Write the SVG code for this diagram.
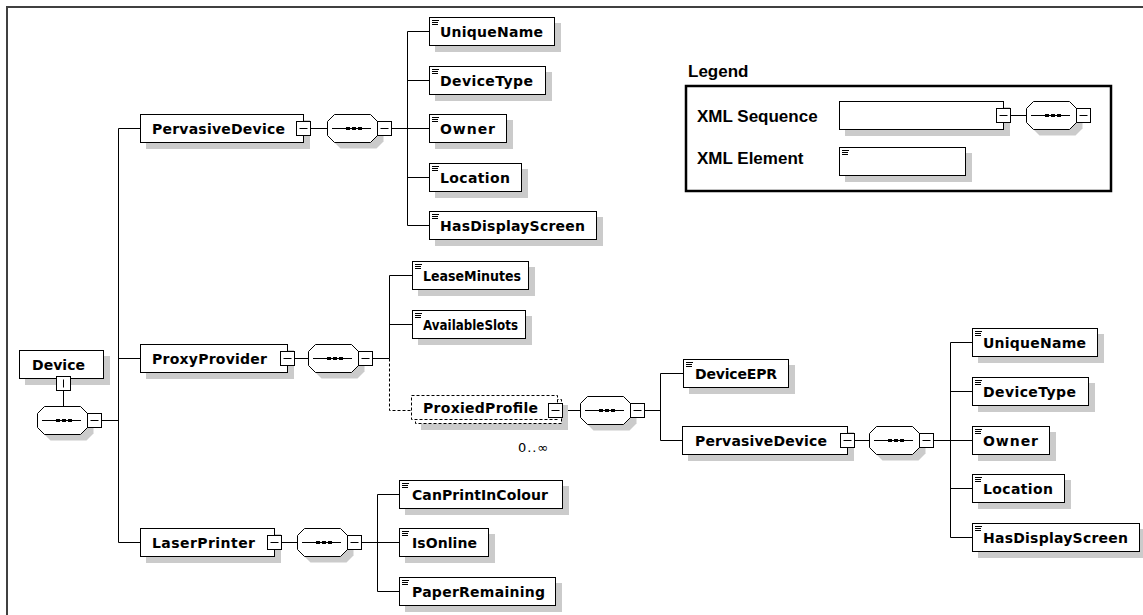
<svg xmlns="http://www.w3.org/2000/svg" xmlns:xlink="http://www.w3.org/1999/xlink" width="1143" height="615" viewBox="0 0 1143 615">
  <style>
    .box { fill: #ffffff; stroke: #000000; stroke-width: 1; }
    .shd { fill: #cbcbcb; stroke: none; }
    .ln { fill: none; stroke: #000000; stroke-width: 1; }
    .dash { stroke-dasharray: 3 2; }
    .lbl { font-family: "DejaVu Sans", "Liberation Sans", sans-serif; font-weight: bold; font-size: 14px; fill: #000000; }
    .occ { font-family: "DejaVu Sans", "Liberation Sans", sans-serif; font-size: 13px; fill: #000000; }
    .leg { font-family: "Liberation Sans", Arial, sans-serif; font-weight: bold; font-size: 17px; fill: #000000; }
  </style>
  <defs>
    <!-- collapse box: 14x14 centred on its origin -->
    <g id="minus">
      <rect class="box" x="-7" y="-7" width="14" height="14"/>
      <line class="ln" x1="-4" y1="0" x2="4" y2="0"/>
    </g>
    <!-- sequence compositor: octagon with dotted bar, plus its collapse box -->
    <g id="seq">
      <polygon class="shd" points="13.5,6.5 49.5,6.5 56.5,13.5 56.5,27.5 49.5,34.5 13.5,34.5 6.5,27.5 6.5,13.5"/>
      <polygon class="box" points="7.5,0.5 43.5,0.5 50.5,7.5 50.5,21.5 43.5,28.5 7.5,28.5 0.5,21.5 0.5,7.5"/>
      <line class="ln" x1="5" y1="14.5" x2="44" y2="14.5"/>
      <rect x="19" y="13" width="4" height="3" fill="#000"/>
      <rect x="25" y="13" width="4" height="3" fill="#000"/>
      <rect x="31" y="13" width="4" height="3" fill="#000"/>
      <use xlink:href="#minus" href="#minus" transform="translate(57.5,14.5)"/>
    </g>
    <!-- simple element marker in the top-left corner -->
    <path id="icon" class="ln" d="M3 3.5h7M3 5.5h6M3 7.5h6"/>
  </defs>

  <!-- frame -->
  <path d="M7 615 V7 H1143" fill="none" stroke="#404040" stroke-width="2"/>

  <!-- connectors -->
  <g id="connectors">
    <path class="ln" d="M63.5 390.5 V406.5"/>
    <path class="ln" d="M101.5 420.5 H118.5"/>
    <path class="ln" d="M118.5 128.5 V542.5 M118.5 128.5 H140.5 M118.5 358.5 H140.5 M118.5 542.5 H140.5"/>

    <path class="ln" d="M310.5 128.5 H327.5 M391.5 128.5 H407.5"/>
    <path class="ln" d="M407.5 31.5 V225.5 M407.5 31.5 H429.5 M407.5 80.5 H429.5 M407.5 128.5 H429.5 M407.5 177.5 H429.5 M407.5 225.5 H429.5"/>

    <path class="ln" d="M294.5 358.5 H308.5 M372.5 358.5 H389.5"/>
    <path class="ln" d="M389.5 275.5 V358.5 M389.5 275.5 H412.5 M389.5 324.5 H412.5"/>
    <path class="ln dash" d="M389.5 358.5 V410.5 H411.5"/>

    <path class="ln" d="M562.5 410.5 H580.5 M644.5 410.5 H660.5"/>
    <path class="ln" d="M660.5 373.5 V440.5 M660.5 373.5 H683.5 M660.5 440.5 H682.5"/>

    <path class="ln" d="M854.5 440.5 H869.5 M933.5 440.5 H950.5"/>
    <path class="ln" d="M950.5 342.5 V537.5 M950.5 342.5 H972.5 M950.5 391.5 H972.5 M950.5 440.5 H972.5 M950.5 488.5 H972.5 M950.5 537.5 H972.5"/>

    <path class="ln" d="M281.5 542.5 H297.5 M361.5 542.5 H377.5"/>
    <path class="ln" d="M377.5 494.5 V591.5 M377.5 494.5 H399.5 M377.5 542.5 H399.5 M377.5 591.5 H399.5"/>

    <path class="ln" d="M1010.5 115.5 H1026.5"/>
  </g>

  <!-- root element -->
  <g id="device" transform="translate(19,350)">
    <rect class="shd" x="6" y="6" width="85" height="29"/>
    <rect class="box" x="0.5" y="0.5" width="84" height="28"/>
    <text class="lbl" x="13" y="19.5" textLength="53" lengthAdjust="spacing">Device</text>
    <rect class="box" x="37.5" y="26.5" width="14" height="14"/>
    <line class="ln" x1="44.5" y1="29.5" x2="44.5" y2="37.5"/>
  </g>
  <g id="device-seq" transform="translate(37,406)"><use xlink:href="#seq" href="#seq"/></g>

  <!-- PervasiveDevice -->
  <g id="pervasive-device" transform="translate(140,114)">
    <rect class="shd" x="6" y="6" width="164" height="29"/>
    <rect class="box" x="0.5" y="0.5" width="163" height="28"/>
    <text class="lbl" x="12" y="19.5" textLength="133" lengthAdjust="spacing">PervasiveDevice</text>
    <use xlink:href="#minus" href="#minus" transform="translate(163.5,14.5)"/>
  </g>
  <g id="pervasive-device-seq" transform="translate(327,114)"><use xlink:href="#seq" href="#seq"/></g>

  <g id="pd-uniquename" transform="translate(429,17)">
    <rect class="shd" x="6" y="6" width="126" height="29"/>
    <rect class="box" x="0.5" y="0.5" width="125" height="28"/>
    <use xlink:href="#icon" href="#icon"/>
    <text class="lbl" x="11" y="19.5" textLength="103" lengthAdjust="spacing">UniqueName</text>
  </g>
  <g id="pd-devicetype" transform="translate(429,66)">
    <rect class="shd" x="6" y="6" width="117" height="29"/>
    <rect class="box" x="0.5" y="0.5" width="116" height="28"/>
    <use xlink:href="#icon" href="#icon"/>
    <text class="lbl" x="11" y="19.5" textLength="93" lengthAdjust="spacing">DeviceType</text>
  </g>
  <g id="pd-owner" transform="translate(429,114)">
    <rect class="shd" x="6" y="6" width="78" height="29"/>
    <rect class="box" x="0.5" y="0.5" width="77" height="28"/>
    <use xlink:href="#icon" href="#icon"/>
    <text class="lbl" x="11" y="19.5" textLength="55" lengthAdjust="spacing">Owner</text>
  </g>
  <g id="pd-location" transform="translate(429,163)">
    <rect class="shd" x="6" y="6" width="93" height="29"/>
    <rect class="box" x="0.5" y="0.5" width="92" height="28"/>
    <use xlink:href="#icon" href="#icon"/>
    <text class="lbl" x="11" y="19.5" textLength="70" lengthAdjust="spacing">Location</text>
  </g>
  <g id="pd-hasdisplayscreen" transform="translate(429,211)">
    <rect class="shd" x="6" y="6" width="168" height="29"/>
    <rect class="box" x="0.5" y="0.5" width="167" height="28"/>
    <use xlink:href="#icon" href="#icon"/>
    <text class="lbl" x="11" y="19.5" textLength="145" lengthAdjust="spacing">HasDisplayScreen</text>
  </g>

  <!-- ProxyProvider -->
  <g id="proxy-provider" transform="translate(140,344)">
    <rect class="shd" x="6" y="6" width="148" height="29"/>
    <rect class="box" x="0.5" y="0.5" width="147" height="28"/>
    <text class="lbl" x="12" y="19.5" textLength="115" lengthAdjust="spacing">ProxyProvider</text>
    <use xlink:href="#minus" href="#minus" transform="translate(147.5,14.5)"/>
  </g>
  <g id="proxy-provider-seq" transform="translate(308,344)"><use xlink:href="#seq" href="#seq"/></g>

  <g id="pp-leaseminutes" transform="translate(412,261)">
    <rect class="shd" x="6" y="6" width="117" height="29"/>
    <rect class="box" x="0.5" y="0.5" width="116" height="28"/>
    <use xlink:href="#icon" href="#icon"/>
    <text class="lbl" x="11" y="19.5" textLength="98" lengthAdjust="spacingAndGlyphs">LeaseMinutes</text>
  </g>
  <g id="pp-availableslots" transform="translate(412,310)">
    <rect class="shd" x="6" y="6" width="114" height="29"/>
    <rect class="box" x="0.5" y="0.5" width="113" height="28"/>
    <use xlink:href="#icon" href="#icon"/>
    <text class="lbl" x="11" y="19.5" textLength="95" lengthAdjust="spacingAndGlyphs">AvailableSlots</text>
  </g>

  <!-- ProxiedProfile (optional, repeating) -->
  <g id="proxied-profile">
    <rect class="shd" x="421" y="405" width="147" height="25"/>
    <rect class="box dash" x="415.5" y="399.5" width="146" height="24"/>
    <rect class="box dash" x="411.5" y="395.5" width="146" height="24"/>
    <text class="lbl" x="423" y="413" textLength="115" lengthAdjust="spacing">ProxiedProfile</text>
    <use xlink:href="#minus" href="#minus" transform="translate(555.5,410.5)"/>
    <text class="occ" x="518" y="452" textLength="30" lengthAdjust="spacing">0..∞</text>
  </g>
  <g id="proxied-profile-seq" transform="translate(580,396)"><use xlink:href="#seq" href="#seq"/></g>

  <g id="pr-deviceepr" transform="translate(683,359)">
    <rect class="shd" x="6" y="6" width="106" height="29"/>
    <rect class="box" x="0.5" y="0.5" width="105" height="28"/>
    <use xlink:href="#icon" href="#icon"/>
    <text class="lbl" x="12" y="19.5" textLength="82" lengthAdjust="spacing">DeviceEPR</text>
  </g>

  <g id="pr-pervasive-device" transform="translate(682,426)">
    <rect class="shd" x="6" y="6" width="166" height="29"/>
    <rect class="box" x="0.5" y="0.5" width="165" height="28"/>
    <text class="lbl" x="13" y="19.5" textLength="132" lengthAdjust="spacing">PervasiveDevice</text>
    <use xlink:href="#minus" href="#minus" transform="translate(165.5,14.5)"/>
  </g>
  <g id="pr-pervasive-device-seq" transform="translate(869,426)"><use xlink:href="#seq" href="#seq"/></g>

  <g id="pr-uniquename" transform="translate(972,328)">
    <rect class="shd" x="6" y="6" width="126" height="29"/>
    <rect class="box" x="0.5" y="0.5" width="125" height="28"/>
    <use xlink:href="#icon" href="#icon"/>
    <text class="lbl" x="11" y="19.5" textLength="103" lengthAdjust="spacing">UniqueName</text>
  </g>
  <g id="pr-devicetype" transform="translate(972,377)">
    <rect class="shd" x="6" y="6" width="117" height="29"/>
    <rect class="box" x="0.5" y="0.5" width="116" height="28"/>
    <use xlink:href="#icon" href="#icon"/>
    <text class="lbl" x="11" y="19.5" textLength="93" lengthAdjust="spacing">DeviceType</text>
  </g>
  <g id="pr-owner" transform="translate(972,426)">
    <rect class="shd" x="6" y="6" width="78" height="29"/>
    <rect class="box" x="0.5" y="0.5" width="77" height="28"/>
    <use xlink:href="#icon" href="#icon"/>
    <text class="lbl" x="11" y="19.5" textLength="55" lengthAdjust="spacing">Owner</text>
  </g>
  <g id="pr-location" transform="translate(972,474)">
    <rect class="shd" x="6" y="6" width="93" height="29"/>
    <rect class="box" x="0.5" y="0.5" width="92" height="28"/>
    <use xlink:href="#icon" href="#icon"/>
    <text class="lbl" x="11" y="19.5" textLength="70" lengthAdjust="spacing">Location</text>
  </g>
  <g id="pr-hasdisplayscreen" transform="translate(972,523)">
    <rect class="shd" x="6" y="6" width="168" height="29"/>
    <rect class="box" x="0.5" y="0.5" width="167" height="28"/>
    <use xlink:href="#icon" href="#icon"/>
    <text class="lbl" x="11" y="19.5" textLength="145" lengthAdjust="spacing">HasDisplayScreen</text>
  </g>

  <!-- LaserPrinter -->
  <g id="laser-printer" transform="translate(140,528)">
    <rect class="shd" x="6" y="6" width="135" height="29"/>
    <rect class="box" x="0.5" y="0.5" width="134" height="28"/>
    <text class="lbl" x="12" y="19.5" textLength="103" lengthAdjust="spacing">LaserPrinter</text>
    <use xlink:href="#minus" href="#minus" transform="translate(134.5,14.5)"/>
  </g>
  <g id="laser-printer-seq" transform="translate(297,528)"><use xlink:href="#seq" href="#seq"/></g>

  <g id="lp-canprintincolour" transform="translate(399,480)">
    <rect class="shd" x="6" y="6" width="164" height="29"/>
    <rect class="box" x="0.5" y="0.5" width="163" height="28"/>
    <use xlink:href="#icon" href="#icon"/>
    <text class="lbl" x="13" y="19.5" textLength="136" lengthAdjust="spacing">CanPrintInColour</text>
  </g>
  <g id="lp-isonline" transform="translate(399,528)">
    <rect class="shd" x="6" y="6" width="90" height="29"/>
    <rect class="box" x="0.5" y="0.5" width="89" height="28"/>
    <use xlink:href="#icon" href="#icon"/>
    <text class="lbl" x="13" y="19.5" textLength="65" lengthAdjust="spacing">IsOnline</text>
  </g>
  <g id="lp-paperremaining" transform="translate(399,577)">
    <rect class="shd" x="6" y="6" width="157" height="29"/>
    <rect class="box" x="0.5" y="0.5" width="156" height="28"/>
    <use xlink:href="#icon" href="#icon"/>
    <text class="lbl" x="13" y="19.5" textLength="133" lengthAdjust="spacing">PaperRemaining</text>
  </g>

  <!-- legend -->
  <g id="legend">
    <text class="leg" x="688" y="77">Legend</text>
    <rect x="686" y="86" width="425" height="105" fill="none" stroke="#000" stroke-width="2.5"/>
    <text class="leg" x="697" y="122">XML Sequence</text>
    <text class="leg" x="697" y="164">XML Element</text>
    <g id="legend-sequence" transform="translate(839,101)">
      <rect class="shd" x="6" y="6" width="165" height="29"/>
      <rect class="box" x="0.5" y="0.5" width="164" height="28"/>
      <use xlink:href="#minus" href="#minus" transform="translate(164.5,14.5)"/>
    </g>
    <g id="legend-sequence-seq" transform="translate(1026,101)"><use xlink:href="#seq" href="#seq"/></g>
    <g id="legend-element" transform="translate(839,147)">
      <rect class="shd" x="6" y="6" width="127" height="29"/>
      <rect class="box" x="0.5" y="0.5" width="126" height="28"/>
      <use xlink:href="#icon" href="#icon"/>
    </g>
  </g>
</svg>
